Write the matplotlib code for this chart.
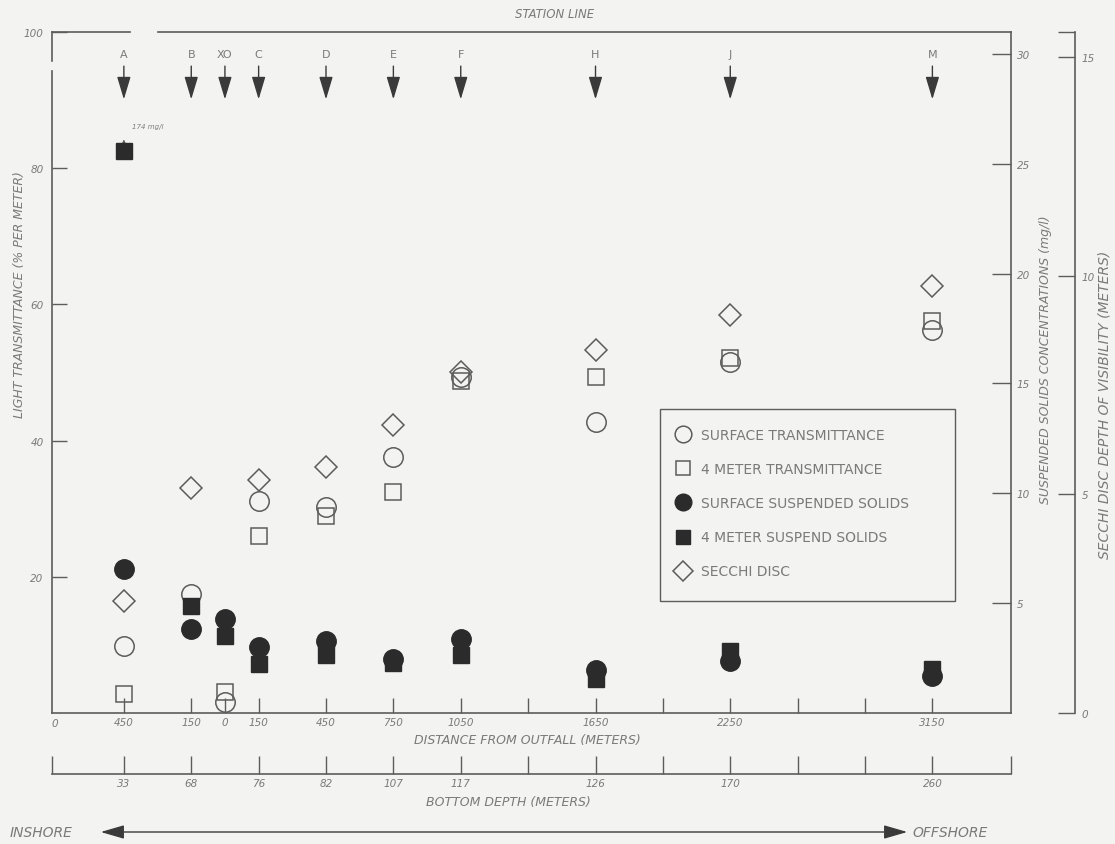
import matplotlib
matplotlib.use('Agg')
import matplotlib.pyplot as plt
from matplotlib.lines import Line2D
from matplotlib.patches import Rectangle, FancyArrowPatch
import numpy as np

# ---------------- data ----------------
stations = ['A', 'B', 'XO', 'C', 'D', 'E', 'F', 'H', 'J', 'M']
distance_m = [-450, -150, 0, 150, 450, 750, 1050, 1650, 2250, 3150]
distance_labels = ['450', '150', '0', '150', '450', '750', '1050', '1650', '2250', '3150']
extra_stations_m = [1350, 1950, 2550, 2850]
depth_positions_m = [-450, -150, 150, 450, 750, 1050, 1650, 2250, 3150]
depth_labels = ['33', '68', '76', '82', '107', '117', '126', '170', '260']

nan = np.nan
surface_transmittance = [9.8, 17.5, 1.6, 31.2, 30.3, 37.6, 49.4, 42.8, 51.6, 56.2]
meter4_transmittance = [2.8, nan, 3.1, 26.0, 29.0, 32.4, 48.7, 49.4, 52.1, 57.6]
surface_suspended = [6.55, 3.82, 4.3, 3.0, 3.28, 2.46, 3.37, 1.96, 2.37, 1.68]
meter4_suspended = [25.6, 4.87, 3.5, 2.23, 2.64, 2.28, 2.64, 1.55, 2.82, 2.0]
secchi_depth = [2.55, 5.14, nan, 5.33, 5.62, 6.58, 7.79, 8.31, 9.1, 9.77]

left_ticks = [20, 40, 60, 80, 100]
ss_ticks = [5, 10, 15, 20, 25, 30]
secchi_ticks = [0, 5, 10, 15]

# ---------------- style ----------------
BG = '#f3f3f1'
LINE = '#5c5c5c'
TXT = '#7a7a7a'
DARK = '#2b2b2b'
W, H = 1115, 845


def fx(px):
    return px / W


def fy(py):
    return 1 - py / H


fig = plt.figure(figsize=(W / 100, H / 100), dpi=100, facecolor=BG)

ax = fig.add_axes([fx(52), fy(714), fx(1011) - fx(52), fy(33) - fy(714)])
ax.patch.set_alpha(0)
ax.set_xlim(-770, 3500)
ax.set_ylim(0, 100)

ax2 = ax.twinx()
ax2.set_ylim(0, 31.0)
ax3 = ax.twinx()
ax3.set_ylim(0, 15.5)

tick_font = dict(fontsize=7.5, style='italic', color=TXT)

# main spines
for s in ['top', 'left', 'right']:
    ax.spines[s].set_visible(False)
ax.spines['bottom'].set_color(LINE)
ax.spines['bottom'].set_linewidth(1.2)
for s in ['top', 'left', 'bottom']:
    ax2.spines[s].set_visible(False)
    ax3.spines[s].set_visible(False)
ax2.spines['right'].set_color(LINE)
ax2.spines['right'].set_linewidth(1.2)
ax3.spines['right'].set_color(LINE)
ax3.spines['right'].set_linewidth(1.2)
ax3.spines['right'].set_position(('axes', (1075 - 52) / 959))
ax3.spines['right'].set_bounds(0, 15.57)

# top spine with a gap, left spine with a gap (as in the scan)
ax.plot([0, 0.081], [1, 1], transform=ax.transAxes, color=LINE, lw=1.2, clip_on=False)
ax.plot([0.111, 1], [1, 1], transform=ax.transAxes, color=LINE, lw=1.2, clip_on=False)
ax.plot([0, 0], [0, 0.943], transform=ax.transAxes, color=LINE, lw=1.2, clip_on=False)
ax.plot([0, 0], [0.957, 1], transform=ax.transAxes, color=LINE, lw=1.2, clip_on=False)

# left axis ticks
ax.set_yticks(left_ticks)
ax.set_yticklabels([str(t) for t in left_ticks], **tick_font)
ax.tick_params(axis='y', direction='in', length=11, width=1, color=LINE, pad=6)

# bottom distance ticks
ax.set_xticks(distance_m + extra_stations_m)
ax.set_xticklabels(distance_labels + [''] * len(extra_stations_m), **tick_font)
ax.tick_params(axis='x', direction='in', length=11, width=1, color=LINE, pad=3)

# suspended solids axis
ax2.set_yticks(ss_ticks)
ax2.set_yticklabels([str(t) for t in ss_ticks], **tick_font)
ax2.tick_params(axis='y', direction='in', length=14, width=1, color=LINE, pad=4)

# secchi axis
ax3.set_yticks(secchi_ticks + [15.57])
ax3.set_yticklabels([str(t) for t in secchi_ticks] + [''], **tick_font)
ax3.tick_params(axis='y', direction='in', length=12, width=1, color=LINE, pad=5)

# ---------------- data marks ----------------
ax.plot(distance_m, surface_transmittance, 'o', ms=14, mfc='none', mec=LINE, mew=1.1, ls='none', zorder=3)
ax.plot(distance_m, meter4_transmittance, 's', ms=11.5, mfc='none', mec=LINE, mew=1.1, ls='none', zorder=3)
ax2.plot(distance_m, meter4_suspended, 's', ms=12, mfc=DARK, mec=DARK, mew=1, ls='none', zorder=4)
ax2.plot(distance_m, surface_suspended, 'o', ms=14, mfc=DARK, mec=DARK, mew=1, ls='none', zorder=4)
ax3.plot(distance_m, secchi_depth, 'D', ms=11.5, mfc='none', mec=LINE, mew=1.1, ls='none', zorder=3)

# off-scale note for station A, 4 m suspended solids
ax2.annotate('', xy=(distance_m[0], meter4_suspended[0]), xytext=(0, 10), textcoords='offset points',
             xycoords='data', arrowprops=dict(arrowstyle='<|-', color=LINE, lw=0.8, mutation_scale=6),
             annotation_clip=False)
ax2.annotate('174 mg/l', xy=(distance_m[0], meter4_suspended[0]), xytext=(6, 16), textcoords='offset points',
             fontsize=5, style='italic', color=TXT)

# ---------------- station arrows ----------------
for name, d in zip(stations, distance_m):
    ax.text(d, 96.8, name, ha='center', va='center', fontsize=8, color=TXT)
    ax.annotate('', xy=(d, 89.7), xytext=(d, 95.4),
                arrowprops=dict(arrowstyle='-|>,head_length=1.0,head_width=0.3',
                                color='#3a3a3a', lw=1.0, mutation_scale=14))

# ---------------- depth axis ----------------
axd = fig.add_axes([fx(52), fy(775), fx(1011) - fx(52), 0.001])
axd.patch.set_alpha(0)
axd.set_xlim(ax.get_xlim())
for s in ['top', 'left', 'right']:
    axd.spines[s].set_visible(False)
axd.spines['bottom'].set_color(LINE)
axd.spines['bottom'].set_linewidth(1.2)
axd.set_yticks([])
axd.set_xticks([-769] + depth_positions_m + extra_stations_m + [3499])
axd.set_xticklabels([''] + depth_labels + [''] * len(extra_stations_m) + [''], **tick_font)
axd.tick_params(axis='x', direction='in', length=13, width=1, color=LINE, pad=3)

# ---------------- titles / labels ----------------
lab = dict(fontsize=9, style='italic', color=TXT)
fig.text(fx(555), fy(15), 'STATION LINE', ha='center', va='center', fontsize=8.5, style='italic', color=TXT)
fig.text(fx(55), fy(724), '0', ha='center', va='center', **tick_font)
fig.text(fx(527), fy(741), 'DISTANCE FROM OUTFALL (METERS)', ha='center', va='center', **lab)
fig.text(fx(508), fy(803), 'BOTTOM DEPTH (METERS)', ha='center', va='center', **lab)
fig.text(fx(20), fy(295), 'LIGHT TRANSMITTANCE (% PER METER)', rotation=90, ha='center', va='center', **lab)
fig.text(fx(1045), fy(360), 'SUSPENDED SOLIDS CONCENTRATIONS (mg/l)', rotation=90, ha='center', va='center', **lab)
fig.text(fx(1105), fy(405), 'SECCHI DISC DEPTH OF VISIBILITY (METERS)', rotation=90, ha='center', va='center',
         fontsize=10, style='italic', color=TXT)

fig.text(fx(10), fy(833), 'INSHORE', ha='left', va='center', fontsize=10, style='italic', color=TXT)
fig.text(fx(912), fy(833), 'OFFSHORE', ha='left', va='center', fontsize=10, style='italic', color=TXT)
fig.patches.append(FancyArrowPatch(
    (fx(98), fy(833)), (fx(910), fy(833)), transform=fig.transFigure,
    arrowstyle='<|-|>,head_length=1.2,head_width=0.35', mutation_scale=12,
    color='#3a3a3a', lw=1.0))

# ---------------- legend ----------------
handles = [
    Line2D([], [], marker='o', ls='none', ms=12, mfc='none', mec=LINE, mew=1.1),
    Line2D([], [], marker='s', ls='none', ms=10, mfc='none', mec=LINE, mew=1.1),
    Line2D([], [], marker='o', ls='none', ms=12, mfc=DARK, mec=DARK),
    Line2D([], [], marker='s', ls='none', ms=10, mfc=DARK, mec=DARK),
    Line2D([], [], marker='D', ls='none', ms=10, mfc='none', mec=LINE, mew=1.1),
]
labels = ['SURFACE TRANSMITTANCE', '4 METER TRANSMITTANCE', 'SURFACE SUSPENDED SOLIDS',
          '4 METER SUSPEND SOLIDS', 'SECCHI DISC']
leg = ax3.legend(handles, labels, loc='upper left', bbox_to_anchor=(fx(668), fy(422)),
                 bbox_transform=fig.transFigure, frameon=False, fontsize=10,
                 labelspacing=1.45, handlelength=1.1, handletextpad=0.75, borderpad=0)
for t in leg.get_texts():
    t.set_color(TXT)
fig.patches.append(Rectangle((fx(660), fy(602)), fx(955) - fx(660), fy(410) - fy(602),
                             transform=fig.transFigure, fill=False, ec=LINE, lw=1.0))

fig.savefig('out.png', dpi=100, facecolor=BG)
